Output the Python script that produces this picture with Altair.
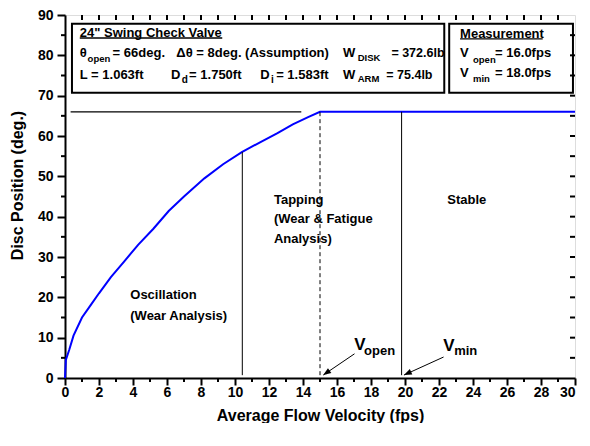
import altair as alt
import pandas as pd

FONT = "Liberation Sans"

# ---- main curve ----
velocity = [0, 0.05, 0.25, 0.5, 1.0, 1.5, 2.0, 2.7, 3.5, 4.3, 5.2, 6.1, 7.0, 8.2, 9.3, 10.4, 11.5, 12.5, 13.4, 14.3, 15.0, 30.0]
disc_pos = [0, 4.5, 7, 10.5, 15, 18, 21, 25, 29, 33, 37, 41.4, 45, 49.5, 53, 56, 58.5, 60.7, 62.9, 64.7, 66, 66]

# ---- axis ticks ----
x_ticks = list(range(0, 31, 2))
y_ticks = list(range(0, 91, 10))
x_minor = list(range(1, 30, 2))
y_minor = list(range(5, 90, 10))
top_ticks = list(range(1, 30))
right_ticks = list(range(5, 90, 5))

# ---- reference lines ----
hline_x = [0.33, 13.9]
hline_y = [66, 66]
vline_x = [10.43, 15.0, 19.8]
vline_y0 = [0.7, 0.7, 0.7]
vline_y1 = [56, 66, 66]
vline_dash = ["solid", "dash", "solid"]

# ---- arrows ----
arrow_x0 = [17.03, 22.27]
arrow_y0 = [6.0, 5.2]
arrow_x1 = [15.19, 19.94]
arrow_y1 = [0.73, 0.73]
arrow_angle = [235.5, 245.4]

# ---- boxes ----
box_x0 = [0.41, 22.6]
box_x1 = [22.31, 29.88]
box_y0 = [70.7, 70.7]
box_y1 = [87.8, 87.8]

# ---- underlines ----
ul_x0 = [0.87, 23.24]
ul_x1 = [9.25, 28.1]
ul_y = [84.3, 84.1]

# ---- texts ----
txt = [
    ("24\" Swing Check Valve", 0.87, 85.6, 13),
    ("θ", 0.87, 80.7, 13),
    ("open", 1.33, 79.2, 9.5),
    ("= 66deg.", 2.8, 80.7, 13),
    ("Δθ = 8deg. (Assumption)", 6.55, 80.7, 13),
    ("W", 16.35, 80.7, 13),
    ("DISK", 17.22, 79.4, 9.5),
    ("= 372.6lb", 19.2, 80.7, 12.5),
    ("L = 1.063ft", 0.87, 75.1, 13),
    ("D", 6.23, 75.1, 13),
    ("d", 6.87, 73.9, 10),
    ("= 1.750ft", 7.3, 75.1, 13),
    ("D", 11.48, 75.1, 13),
    ("i", 12.12, 73.9, 10),
    ("= 1.583ft", 12.42, 75.1, 13),
    ("W", 16.35, 75.1, 13),
    ("ARM", 17.22, 74.1, 9.5),
    ("= 75.4lb", 18.9, 75.1, 12.5),
    ("Measurement", 23.24, 85.4, 13),
    ("V", 23.24, 80.5, 13),
    ("open", 24.0, 78.8, 9.5),
    ("=  16.0fps", 25.3, 80.5, 13),
    ("V", 23.24, 75.6, 13),
    ("min", 24.0, 74.1, 9.5),
    ("=  18.0fps", 25.3, 75.6, 13),
    ("Oscillation", 3.84, 20.7, 13),
    ("(Wear Analysis)", 3.84, 15.4, 13),
    ("Tapping", 12.29, 44.1, 13),
    ("(Wear & Fatigue", 12.29, 39.3, 13),
    ("Analysis)", 12.29, 34.4, 13),
    ("Stable", 22.49, 44.1, 13),
    ("V", 17.01, 8.3, 17),
    ("open", 17.59, 6.8, 13),
    ("V", 22.25, 8.0, 17),
    ("min", 22.89, 6.6, 13),
]
txt_text = [t[0] for t in txt]
txt_x = [t[1] for t in txt]
txt_y = [t[2] for t in txt]
txt_size = [t[3] for t in txt]

W, H = 510, 363
xs = alt.Scale(domain=[0, 30], nice=False, zero=False)
ys = alt.Scale(domain=[0, 90], nice=False, zero=False)

x_axis = alt.Axis(values=x_ticks, title="Average Flow Velocity (fps)", grid=False,
                  labelFont=FONT, labelFontSize=14, labelFontWeight="bold", labelColor="black",
                  tickColor="black", tickWidth=2, tickSize=7, domainColor="black", domainWidth=2,
                  labelPadding=0, titleFont=FONT, titleFontSize=16, titleFontWeight="bold",
                  titleColor="black", titlePadding=8, labelFlush=False, labelOverlap=False,
                  labelBound=False, format="d",
                  labelAlign={"condition": {"test": "datum.value >= 30", "value": "right"}, "value": "center"})
y_axis = alt.Axis(values=y_ticks, title="Disc Position  (deg.)", grid=False,
                  labelFont=FONT, labelFontSize=14, labelFontWeight="bold", labelColor="black",
                  tickColor="black", tickWidth=2, tickSize=8, domainColor="black", domainWidth=2,
                  labelPadding=4, titleFont=FONT, titleFontSize=16, titleFontWeight="bold",
                  titleColor="black", titleX=-48, titleY=170, titleAlign="center",
                  titleBaseline="middle", titleAngle=270, labelFlush=False, labelOverlap=False,
                  labelBound=False, format="d")


def X(field):
    return alt.X(field, scale=xs, axis=x_axis)


def Y(field):
    return alt.Y(field, scale=ys, axis=y_axis)


curve_df = pd.DataFrame({"v": velocity, "p": disc_pos})
curve = alt.Chart(curve_df).mark_line(color="#0000ff", strokeWidth=2).encode(
    x=X("v:Q"), y=Y("p:Q"))

hl = alt.Chart(pd.DataFrame({"x": hline_x, "y": hline_y})).mark_line(color="black", strokeWidth=1.2).encode(
    x=X("x:Q"), y=Y("y:Q"))

vl_df = pd.DataFrame({"x": vline_x, "y0": vline_y0, "y1": vline_y1, "d": vline_dash})
vl_solid = alt.Chart(vl_df[vl_df.d == "solid"]).mark_rule(color="black", strokeWidth=1).encode(
    x=X("x:Q"), y=Y("y0:Q"), y2="y1:Q")
vl_dash = alt.Chart(vl_df[vl_df.d == "dash"]).mark_rule(color="black", strokeWidth=1, strokeDash=[4, 3]).encode(
    x=X("x:Q"), y=Y("y0:Q"), y2="y1:Q")

ar_df = pd.DataFrame({"x0": arrow_x0, "y0": arrow_y0, "x1": arrow_x1, "y1": arrow_y1, "a": arrow_angle})
ar_line = alt.Chart(ar_df).mark_rule(color="black", strokeWidth=1).encode(
    x=X("x0:Q"), y=Y("y0:Q"), x2="x1:Q", y2="y1:Q")
ar_head = alt.Chart(ar_df).mark_point(shape="M-1,2.6L0,0L1,2.6Z", filled=True, color="black", size=36, opacity=1).encode(
    x=X("x1:Q"), y=Y("y1:Q"), angle=alt.Angle("a:Q", scale=None))

box_df = pd.DataFrame({"x0": box_x0, "x1": box_x1, "y0": box_y0, "y1": box_y1})
boxes = alt.Chart(box_df).mark_rect(fill="white", stroke="black", strokeWidth=2).encode(
    x=X("x0:Q"), x2="x1:Q", y=Y("y0:Q"), y2="y1:Q")

ul_df = pd.DataFrame({"x0": ul_x0, "x1": ul_x1, "y": ul_y})
ul = alt.Chart(ul_df).mark_rule(color="black", strokeWidth=1.3).encode(
    x=X("x0:Q"), x2="x1:Q", y=Y("y:Q"))

txt_df = pd.DataFrame({"t": txt_text, "x": txt_x, "y": txt_y, "s": txt_size})
texts = alt.Chart(txt_df).mark_text(font=FONT, fontWeight="bold", align="left", baseline="middle", color="black").encode(
    x=X("x:Q"), y=Y("y:Q"), text="t:N", size=alt.Size("s:Q", scale=None))

# minor / mirrored ticks
xm = alt.Chart(pd.DataFrame({"x": x_minor})).mark_rule(color="black", strokeWidth=2).encode(
    x=X("x:Q"), y=alt.value(H), y2=alt.value(H + 4))
ym = alt.Chart(pd.DataFrame({"y": y_minor})).mark_rule(color="black", strokeWidth=2).encode(
    y=Y("y:Q"), x=alt.value(0), x2=alt.value(-4))
tt = alt.Chart(pd.DataFrame({"x": top_ticks})).mark_rule(color="black", strokeWidth=2).encode(
    x=X("x:Q"), y=alt.value(0), y2=alt.value(5))
rt = alt.Chart(pd.DataFrame({"y": right_ticks})).mark_rule(color="black", strokeWidth=2).encode(
    y=Y("y:Q"), x=alt.value(W), x2=alt.value(W - 5))

chart = alt.layer(
    curve, hl, vl_solid, vl_dash, ar_line, ar_head, boxes, ul, texts, xm, ym, tt, rt
).properties(
    width=W, height=H, padding={"left": 1, "top": 0, "right": 0, "bottom": 0}
).configure_view(stroke="black", strokeWidth=2).configure(background="white").configure_axis(labelOverlap=False)

chart.save("out.html", embed_options={"renderer": "svg", "actions": False})
